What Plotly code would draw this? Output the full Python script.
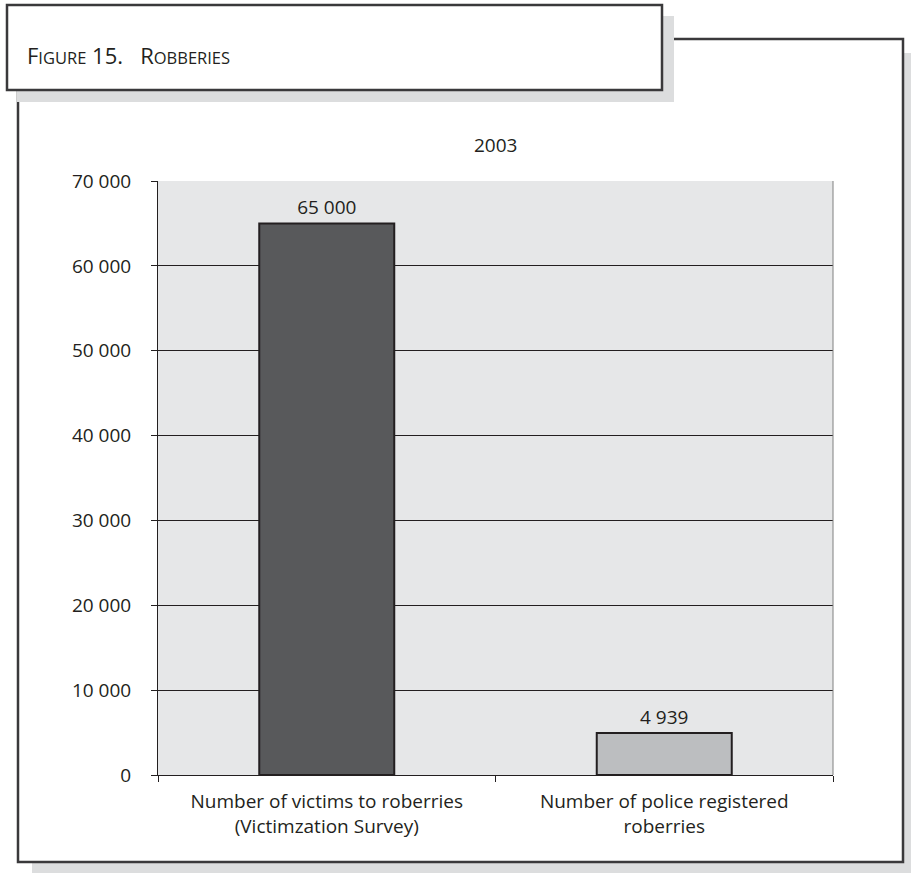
import plotly.graph_objects as go

# ---- data ----
categories = [
    "Number of victims to roberries<br>(Victimzation Survey)",
    "Number of police registered<br>roberries",
]
values = [65000, 4939]
year_label = "2003"
y_ticks = [0, 10000, 20000, 30000, 40000, 50000, 60000, 70000]

# ---- style ----
W, H = 911, 873
ML, MR, MT, MB = 158, 78, 181, 98
PW, PH = W - ML - MR, H - MT - MB
DARK = "#231f20"
FRAME = "#3a393b"
SHADOW = "#dcddde"
PLOT_BG = "#e6e7e8"
BAR_COLORS = ["#58595b", "#bcbec0"]
FONT = "Open Sans"


def px(x):
    return (x - ML) / PW


def py(y):
    return (H - MB - y) / PH


def rect(x0, y0, x1, y1, fill=None, line=None, lw=0):
    d = dict(type="rect", xref="paper", yref="paper",
             x0=px(x0), x1=px(x1), y0=py(y1), y1=py(y0), layer="below")
    d["fillcolor"] = fill if fill else "rgba(0,0,0,0)"
    d["line"] = dict(color=line if line else "rgba(0,0,0,0)", width=lw)
    return d


shapes = [
    # main frame shadow (right and bottom strips)
    rect(903, 53, 917, 876, fill=SHADOW),
    rect(32, 862, 917, 876, fill=SHADOW),
    # main frame
    rect(18, 39, 903, 862, line=FRAME, lw=2.5),
    # title box shadow and box
    rect(17, 16, 674, 102, fill=SHADOW),
    rect(7, 5, 662, 90, fill="white", line=FRAME, lw=2.5),
    # right edge of plot area
    dict(type="line", xref="paper", yref="paper", x0=1, x1=1, y0=0, y1=1,
         line=dict(color="#808080", width=1), layer="above"),
]

fig = go.Figure(
    go.Bar(
        x=categories,
        y=values,
        marker=dict(color=BAR_COLORS, line=dict(color=DARK, width=2)),
        texttemplate="%{y:,}",
        textposition="outside",
        textfont=dict(family=FONT, size=19, color=DARK),
        cliponaxis=False,
        width=0.4,
    )
)

title_text = (
    '<span style="font-size:22px">F</span>'
    '<span style="font-size:16.5px">IGURE</span> 15.\u00a0\u00a0 '
    '<span style="font-size:22px">R</span>'
    '<span style="font-size:16.5px">OBBERIES</span>'
)

fig.update_layout(
    width=W,
    height=H,
    margin=dict(l=ML, r=MR, t=MT, b=MB, pad=0),
    paper_bgcolor="white",
    plot_bgcolor=PLOT_BG,
    separators=". ",
    showlegend=False,
    font=dict(family=FONT, size=19, color=DARK),
    shapes=shapes,
    annotations=[
        dict(text=title_text, xref="paper", yref="paper", x=px(25), y=py(55),
             xanchor="left", yanchor="middle", showarrow=False,
             font=dict(family=FONT, size=22, color=DARK)),
        dict(text=year_label, xref="paper", yref="paper", x=0.5, y=py(145),
             xanchor="center", yanchor="middle", showarrow=False,
             font=dict(family=FONT, size=19, color=DARK)),
    ],
)

fig.update_yaxes(
    range=[0, 70000],
    tickvals=y_ticks,
    tickformat=",",
    showgrid=True,
    gridcolor=DARK,
    gridwidth=1,
    zeroline=False,
    showline=True,
    linecolor=DARK,
    linewidth=1,
    ticks="outside",
    ticklen=6,
    tickcolor=DARK,
    ticklabelstandoff=16,
    tickfont=dict(family=FONT, size=19, color=DARK),
    automargin=False,
)

fig.update_xaxes(
    type="category",
    showline=True,
    linecolor=DARK,
    linewidth=1,
    ticks="outside",
    tickson="boundaries",
    ticklen=6,
    tickcolor=DARK,
    showgrid=False,
    ticklabelstandoff=9,
    tickfont=dict(family=FONT, size=19, color=DARK),
    automargin=False,
)

fig.write_html(
    "out.html",
    config={"displayModeBar": False},
    post_script="document.body.style.margin='0px';document.body.style.overflow='hidden';",
)
